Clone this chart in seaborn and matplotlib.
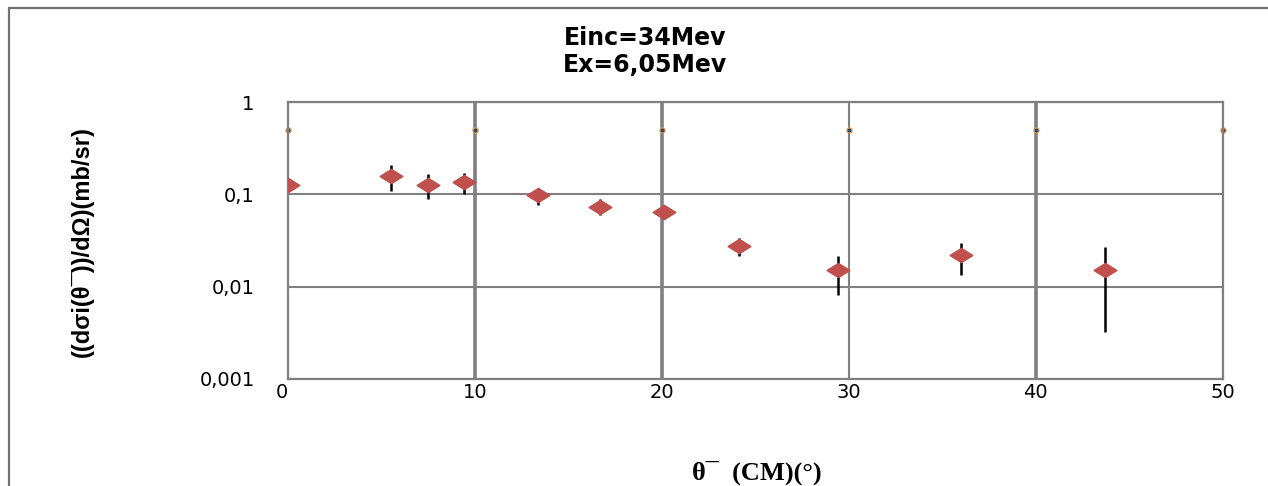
import matplotlib
matplotlib.use("Agg")
import matplotlib.pyplot as plt
from matplotlib.path import Path
from matplotlib.lines import Line2D
from matplotlib.ticker import FixedLocator, NullLocator
import seaborn as sns
import pandas as pd

# Measured differential cross section (CM frame)
theta_cm = [0.0, 5.5, 7.5, 9.4, 13.4, 16.7, 20.1, 24.1, 29.4, 36.0, 43.7]
cross_section = [0.126, 0.158, 0.126, 0.137, 0.098, 0.0724, 0.0649, 0.0277, 0.0151, 0.022, 0.0151]
err_low = [0.115, 0.109, 0.089, 0.100, 0.0767, 0.0593, 0.0537, 0.0216, 0.0082, 0.0132, 0.0032]
err_high = [0.138, 0.209, 0.167, 0.172, 0.118, 0.0885, 0.074, 0.0334, 0.0216, 0.0299, 0.0268]

# Secondary marker series along the top
ref_theta = [0, 10, 20, 30, 40, 50]
ref_level = [0.5, 0.5, 0.5, 0.5, 0.5, 0.5]

x_ticks = [0, 10, 20, 30, 40, 50]
x_tick_labels = ["0", "10", "20", "30", "40", "50"]
y_ticks = [0.001, 0.01, 0.1, 1]
y_tick_labels = ["0,001", "0,01", "0,1", "1"]
title_lines = ["Einc=34Mev", "Ex=6,05Mev"]
x_label = "θ¯  (CM)(°)"
y_label = "((dσi(θ¯))/dΩ)(mb/sr)"

sns.set_theme(style="white")
plt.rcParams["font.family"] = ["DejaVu Sans"]
plt.rcParams["text.color"] = "black"
plt.rcParams["xtick.color"] = "black"
plt.rcParams["ytick.color"] = "black"

W, H = 1268, 486
fig = plt.figure(figsize=(W / 100, H / 100), dpi=100)
ax = fig.add_axes([288 / W, 1 - 378.7 / H, (1222.7 - 288) / W, (378.7 - 102.3) / H])

df = pd.DataFrame({"theta": theta_cm, "sigma": cross_section})

ax.set_yscale("log")
ax.set_xlim(0, 50)
ax.set_ylim(0.001, 1)

# error bars
ax.vlines(theta_cm, err_low, err_high, colors="black", lw=1.8, zorder=3)

# flattened diamond marker
diamond = Path([(-1, 0), (0, 0.62), (1, 0), (0, -0.62), (-1, 0)],
               [Path.MOVETO, Path.LINETO, Path.LINETO, Path.LINETO, Path.CLOSEPOLY])
sns.scatterplot(data=df, x="theta", y="sigma", marker=diamond, s=260,
                color="#C0504D", edgecolor="#C0504D", linewidth=1.2, zorder=4, ax=ax)

ax.scatter(ref_theta, ref_level, s=14, marker="o", facecolor="#1F4E79",
           edgecolor="#F79646", linewidths=0.8, zorder=2, clip_on=False)

ax.set_xlabel("")
ax.set_ylabel("")

ax.xaxis.set_major_locator(FixedLocator(x_ticks))
ax.set_xticklabels(x_tick_labels, fontsize=14)
ax.yaxis.set_major_locator(FixedLocator(y_ticks))
ax.yaxis.set_minor_locator(NullLocator())
ax.set_yticklabels(y_tick_labels, fontsize=14)
ax.tick_params(axis="y", length=0, pad=24)
ax.tick_params(axis="x", length=0, pad=3)
ax.get_xticklabels()[0].set_horizontalalignment("right")

ax.grid(True, which="major", color="#808080", lw=1.5, zorder=1)
ax.set_axisbelow(True)
for pos, line in zip(x_ticks, ax.get_xgridlines()):
    if pos in (10, 20, 40):
        line.set_linewidth(2.6)

for sp in ax.spines.values():
    sp.set_color("#808080")
    sp.set_linewidth(1.6)

# titles and axis labels
fig.text(645 / W, 1 - 38 / H, title_lines[0], ha="center", va="center",
         fontsize=17, fontweight="bold", color="black")
fig.text(645 / W, 1 - 65 / H, title_lines[1], ha="center", va="center",
         fontsize=17, fontweight="bold", color="black")
fig.text(82 / W, 1 - 242 / H, y_label, rotation=90, ha="center", va="center",
         fontsize=17, fontweight="bold", color="black",
         family=["Liberation Sans", "DejaVu Sans"])
fig.text(757 / W, 1 - 473 / H, x_label, ha="center", va="center",
         fontsize=19, fontweight="bold", color="black",
         family=["Liberation Serif", "DejaVu Serif"])

# outer frame (left and top edges)
frame_kw = dict(transform=fig.transFigure, color="#707070", lw=1.6)
fig.add_artist(Line2D([8.5 / W, 8.5 / W], [0, 1 - 8.5 / H], **frame_kw))
fig.add_artist(Line2D([8.5 / W, 1], [1 - 8.5 / H, 1 - 8.5 / H], **frame_kw))

fig.savefig("out.png", dpi=100)
